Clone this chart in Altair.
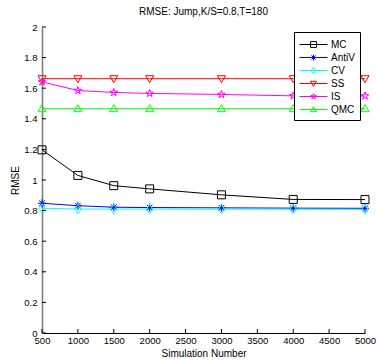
import altair as alt
import pandas as pd

# ---- data ----
sim_n = [500, 1000, 1500, 2000, 3000, 4000, 5000]
mc = [1.197, 1.030, 0.963, 0.942, 0.903, 0.873, 0.872]
antiv = [0.848, 0.832, 0.822, 0.820, 0.818, 0.816, 0.815]
cv = [0.816, 0.810, 0.810, 0.810, 0.809, 0.809, 0.808]
ss = [1.662, 1.662, 1.662, 1.662, 1.662, 1.662, 1.662]
is_ = [1.641, 1.585, 1.572, 1.566, 1.559, 1.550, 1.549]
qmc = [1.466, 1.466, 1.466, 1.466, 1.466, 1.466, 1.466]

series_names = ["MC", "AntiV", "CV", "SS", "IS", "QMC"]
series_colors = ["#000000", "#0000ff", "#00ffff", "#ff0000", "#ff00ff", "#00ff00"]
x_ticks = [500, 1000, 1500, 2000, 2500, 3000, 3500, 4000, 4500, 5000]
y_ticks = [0, 0.2, 0.4, 0.6, 0.8, 1, 1.2, 1.4, 1.6, 1.8, 2]

rows = []
for name, vals in zip(series_names, [mc, antiv, cv, ss, is_, qmc]):
    for n, v in zip(sim_n, vals):
        rows.append({"N": n, "RMSE": v, "method": name})
df = pd.DataFrame(rows)

# ---- marker geometry (unit coordinates) ----
polys = {
    "MC": [(-1, -1), (1, -1), (1, 1), (-1, 1)],
    "CV": [(0, -1.15), (0.8, 0), (0, 1.15), (-0.8, 0)],
    "SS": [(-1, -0.75), (1, -0.75), (0, 1)],
    "IS": [(0, -1), (0.225, -0.309), (0.951, -0.309), (0.363, 0.118), (0.588, 0.809),
           (0, 0.382), (-0.588, 0.809), (-0.363, 0.118), (-0.951, -0.309), (-0.225, -0.309)],
    "QMC": [(-1, 0.75), (1, 0.75), (0, -1)],
}
aster = [((-1, 0), (1, 0)), ((0, -1), (0, 1)), ((-0.7, -0.7), (0.7, 0.7)), ((-0.7, 0.7), (0.7, -0.7))]


def fmt(v):
    return ("%.3f" % v).rstrip("0").rstrip(".")


def marker_path(name, s=1.0, ox=0.0):
    if name == "AntiV":
        return "".join("M%s,%sL%s,%s" % (fmt(a[0] * s + ox), fmt(a[1] * s), fmt(b[0] * s + ox), fmt(b[1] * s))
                       for a, b in aster)
    pts = polys[name]
    p = "M" + "L".join("%s,%s" % (fmt(x * s + ox), fmt(y * s)) for x, y in pts) + "Z"
    return p


point_shapes = [marker_path(n) for n in series_names]
legend_shapes = ["M-1,0L3,0" + marker_path(n, 0.42, 1.0) for n in series_names]

W, H = 323, 306
FONT = "Liberation Sans"

xs = alt.Scale(domain=[500, 5000], nice=False, zero=False)
ys = alt.Scale(domain=[0, 2], nice=False)

x_axis = alt.Axis(values=x_ticks, format="d", labelOverlap=False)
y_axis = alt.Axis(values=y_ticks, format=".1~f", labelOverlap=False)

x_enc = alt.X("N:Q", scale=xs, title="Simulation Number", axis=x_axis)
y_enc = alt.Y("RMSE:Q", scale=ys, title="RMSE", axis=y_axis)

color_nolegend = alt.Color("method:N", scale=alt.Scale(domain=series_names, range=series_colors),
                           legend=None)

lines = alt.Chart(df).mark_line(strokeWidth=1).encode(
    x=x_enc, y=y_enc, color=color_nolegend, detail="method:N",
    order="N:Q")

points = alt.Chart(df).mark_point(filled=False, strokeWidth=1, opacity=1, size=64).encode(
    x=x_enc, y=y_enc,
    color=color_nolegend,
    shape=alt.Shape("method:N", scale=alt.Scale(domain=series_names, range=point_shapes), legend=None))

legend_layer = alt.Chart(df).mark_point(filled=False, strokeWidth=1, opacity=1, size=64,
                                        clip=True, yOffset=-4000).encode(
    x=x_enc, y=y_enc,
    color=alt.Color("method:N", scale=alt.Scale(domain=series_names, range=series_colors),
                    legend=alt.Legend(title=None)),
    shape=alt.Shape("method:N", scale=alt.Scale(domain=series_names, range=legend_shapes),
                    legend=alt.Legend(title=None)))

ytick_df = pd.DataFrame({"RMSE": y_ticks})
xtick_df = pd.DataFrame({"N": x_ticks})

yticks = alt.Chart(ytick_df).mark_rule(color="black", strokeWidth=1).encode(
    y=y_enc, x=alt.value(0), x2=alt.value(4))
xticks = alt.Chart(xtick_df).mark_rule(color="black", strokeWidth=1).encode(
    x=x_enc, y=alt.value(H), y2=alt.value(H - 4))

chart = alt.layer(lines, points, yticks, xticks, legend_layer).resolve_scale(
    color="independent", shape="independent"
).properties(
    width=W, height=H,
    padding={"left": 42, "top": 27, "right": 12, "bottom": 27},
    autosize=alt.AutoSizeParams(type="none"),
    title=alt.Title("RMSE: Jump,K/S=0.8,T=180", font=FONT, fontSize=10, fontWeight="normal",
                    color="black", anchor="middle", offset=5),
    background="white",
).configure_view(stroke=None).configure_axis(
    labelFont=FONT, labelFontSize=9.5, labelColor="black",
    titleFont=FONT, titleFontSize=10, titleFontWeight="normal", titleColor="black",
    grid=False, ticks=False, labelFlush=False, labelOverlap=False, labelBound=False,
).configure_axisX(
    domainColor="black", domainWidth=1, labelPadding=2, titlePadding=4,
).configure_axisY(
    domainColor="#808080", domainWidth=1.6, labelPadding=5, titlePadding=3,
).configure_legend(
    orient="none", legendX=252, legendY=5,
    strokeColor="black", fillColor="white", padding=5, cornerRadius=0,
    symbolSize=196, symbolStrokeWidth=1, labelFont=FONT, labelFontSize=10,
    labelColor="black", labelOffset=17, rowPadding=0, symbolOpacity=1,
)

chart.save("out.html", embed_options={"renderer": "svg", "actions": False})
